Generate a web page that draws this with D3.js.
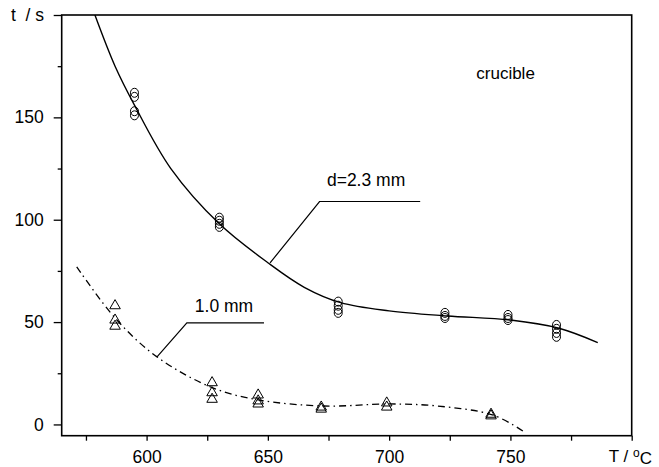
<!DOCTYPE html>
<html>
<head>
<meta charset="utf-8">
<script src="https://cdn.jsdelivr.net/npm/d3@7/dist/d3.min.js"></script>
<style>
  body { margin: 0; background: #fff; }
  text { font-family: "Liberation Sans", Arial, sans-serif; fill: #000; }
</style>
</head>
<body>
<div id="chart"></div>
<script>
// measured points, d = 2.3 mm (circles)
const circleT = [595, 595, 595, 595, 630, 630, 630, 630, 679, 679, 679, 679,
                 723, 723, 723, 749, 749, 749, 769, 769, 769, 769];
const circleV = [162, 160, 153, 151, 101, 99.5, 98, 96.5, 60, 58, 56, 54.5,
                 54.5, 53, 52, 53.5, 52, 51, 48.6, 46.7, 44.7, 42.8];

// measured points, d = 1.0 mm (triangles)
const triT = [587, 587, 587, 627, 627, 627, 646, 646, 646, 672, 672, 699, 699, 742, 742];
const triV = [58, 51, 48, 20.4, 15.5, 12.3, 14.4, 11.5, 10, 8.5, 7.5, 10.5, 8.5, 5, 4.2];

// fitted curves
const fitAT = [578.7, 587, 595, 610, 630, 650, 665, 680, 700, 724, 750, 770, 786];
const fitAV = [200, 175, 156, 125, 98, 79, 67, 59.5, 55.5, 53, 51, 47, 40];
const fitBT = [571.2, 587, 604.3, 627, 646, 673, 700, 720, 743, 755.8];
const fitBV = [77, 52, 33, 18, 12, 9, 10, 9, 4.5, -3.7];

// axis ticks
const xMajor = [600, 650, 700, 750];
const xMinor = [575, 625, 675, 725, 775, 800];
const yMajor = [0, 50, 100, 150, 200];
const yMinor = [25, 75, 125, 175];

// annotation leaders (data units)
const leaderA = [[650.9, 78.9], [671.3, 108.9], [712.8, 108.9]];
const leaderB = [[604.3, 33], [616.6, 49.6], [648.4, 49.6]];

const W = 659, H = 467;
const svg = d3.select("#chart").append("svg")
    .attr("width", W).attr("height", H);

const x = d3.scaleLinear().domain([565, 800]).range([61.7, 631.7]);
const y = d3.scaleLinear().domain([-5.5, 200]).range([435.7, 15]);

const fs = "17.5px";

// X axis major
const gx = svg.append("g")
    .attr("transform", `translate(0,${y(-5.5)})`)
    .call(d3.axisBottom(x).tickValues(xMajor).tickSize(5).tickPadding(9.5).tickFormat(d3.format("d")));
gx.select(".domain").remove();
gx.selectAll("text").style("font-size", fs).attr("font-family", null);
gx.selectAll("line").attr("stroke-width", 1.3);

// X axis minor
const gx2 = svg.append("g")
    .attr("transform", `translate(0,${y(-5.5)})`)
    .call(d3.axisBottom(x).tickValues(xMinor).tickSize(5).tickFormat(""));
gx2.select(".domain").remove();
gx2.selectAll("line").attr("stroke-width", 1.3);

// Y axis major
const gy = svg.append("g")
    .attr("transform", `translate(${x(565)},0)`)
    .call(d3.axisLeft(y).tickValues(yMajor).tickSize(8).tickPadding(10).tickFormat(d => d === 200 ? "" : d));
gy.select(".domain").remove();
gy.selectAll("text").style("font-size", fs).attr("font-family", null);
gy.selectAll("line").attr("stroke-width", 1.3);

// Y axis minor
const gy2 = svg.append("g")
    .attr("transform", `translate(${x(565)},0)`)
    .call(d3.axisLeft(y).tickValues(yMinor).tickSize(4).tickFormat(""));
gy2.select(".domain").remove();
gy2.selectAll("line").attr("stroke-width", 1.3);

// frame
svg.append("rect")
    .attr("x", x(565)).attr("y", y(200))
    .attr("width", x(800) - x(565)).attr("height", y(-5.5) - y(200))
    .attr("fill", "none").attr("stroke", "#000").attr("stroke-width", 1.6);

// axis titles
svg.append("text")
    .attr("x", 44).attr("y", y(200)).attr("dy", "0.35em")
    .attr("text-anchor", "end").style("font-size", fs)
    .style("white-space", "pre")
    .text("t  / s");

const xt = svg.append("text")
    .attr("x", 652).attr("y", y(-5.5) + 14.5).attr("dy", "0.71em")
    .attr("text-anchor", "end").style("font-size", "17px");
xt.append("tspan").text("T / ");
xt.append("tspan").attr("dy", "-0.4em").style("font-size", "12px").text("o");
xt.append("tspan").attr("dy", "0.4em").text("C");

// clip for curves
svg.append("clipPath").attr("id", "clip").append("rect")
    .attr("x", x(565)).attr("y", y(200))
    .attr("width", x(800) - x(565)).attr("height", y(-5.5) - y(200));

const line = d3.line().x(d => x(d[0])).y(d => y(d[1])).curve(d3.curveCatmullRom.alpha(0.5));

svg.append("path")
    .datum(d3.zip(fitAT, fitAV))
    .attr("clip-path", "url(#clip)")
    .attr("d", line)
    .attr("fill", "none").attr("stroke", "#000").attr("stroke-width", 1.4);

svg.append("path")
    .datum(d3.zip(fitBT, fitBV))
    .attr("d", line)
    .attr("fill", "none").attr("stroke", "#000").attr("stroke-width", 1.3)
    .attr("stroke-dasharray", "7,4,1.5,4");

// markers
svg.append("g").selectAll("ellipse")
    .data(d3.zip(circleT, circleV))
    .join("ellipse")
    .attr("cx", d => x(d[0])).attr("cy", d => y(d[1]))
    .attr("rx", 4).attr("ry", 4.5)
    .attr("fill", "none").attr("stroke", "#000").attr("stroke-width", 1);

const tri = d3.symbol().type(d3.symbolTriangle).size(48);
svg.append("g").selectAll("path")
    .data(d3.zip(triT, triV))
    .join("path")
    .attr("transform", d => `translate(${x(d[0])},${y(d[1])})`)
    .attr("d", tri)
    .attr("fill", "none").attr("stroke", "#000").attr("stroke-width", 1);

// leaders and labels
const lead = d3.line().x(d => x(d[0])).y(d => y(d[1]));
[leaderA, leaderB].forEach(p => {
  svg.append("path").attr("d", lead(p))
     .attr("fill", "none").attr("stroke", "#000").attr("stroke-width", 1.2);
});

svg.append("text").attr("x", x(690.5)).attr("y", y(116.6))
   .attr("text-anchor", "middle").style("font-size", fs).text("d=2.3 mm");
svg.append("text").attr("x", x(631.9)).attr("y", y(55))
   .attr("text-anchor", "middle").style("font-size", fs).text("1.0 mm");
svg.append("text").attr("x", x(748)).attr("y", y(168.9))
   .attr("text-anchor", "middle").style("font-size", "17px").text("crucible");
</script>
</body>
</html>
